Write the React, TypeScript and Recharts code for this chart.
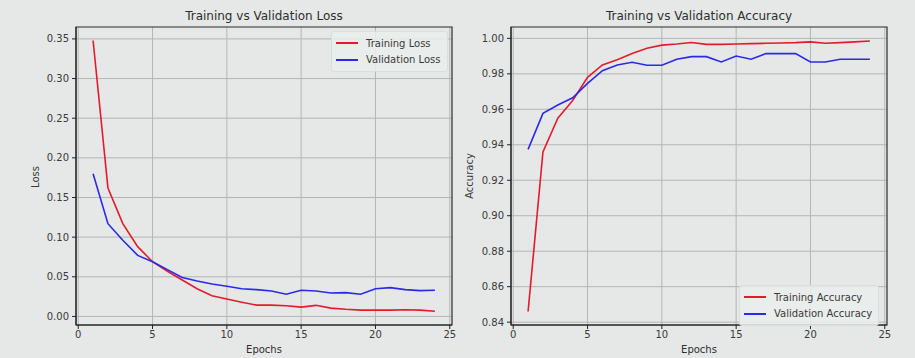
import React from 'react'
import { LineChart, Line, XAxis, YAxis, CartesianGrid, ReferenceArea } from 'recharts'

const epochs = [1, 2, 3, 4, 5, 6, 7, 8, 9, 10, 11, 12, 13, 14, 15, 16, 17, 18, 19, 20, 21, 22, 23, 24]

const trainLoss = [0.348, 0.162, 0.117, 0.088, 0.069, 0.057, 0.046, 0.035, 0.026, 0.022, 0.018, 0.0143, 0.0143, 0.0135, 0.0118, 0.014, 0.0105, 0.009, 0.008, 0.008, 0.008, 0.0085, 0.008, 0.0065]
const valLoss = [0.18, 0.117, 0.096, 0.077, 0.069, 0.059, 0.049, 0.0447, 0.041, 0.038, 0.035, 0.0338, 0.032, 0.028, 0.033, 0.032, 0.0295, 0.03, 0.028, 0.035, 0.0363, 0.0338, 0.0325, 0.033]

const trainAcc = [0.846, 0.936, 0.955, 0.965, 0.978, 0.985, 0.988, 0.9915, 0.9944, 0.9962, 0.9968, 0.9977, 0.9966, 0.9966, 0.9968, 0.997, 0.9972, 0.9974, 0.9976, 0.998, 0.9972, 0.9976, 0.998, 0.9985]
const valAcc = [0.9374, 0.9577, 0.9624, 0.9665, 0.9746, 0.9818, 0.985, 0.9865, 0.9848, 0.9848, 0.9882, 0.9897, 0.9897, 0.9867, 0.99, 0.9882, 0.9914, 0.9914, 0.9914, 0.9867, 0.9867, 0.9882, 0.9882, 0.9882]

const xTicks = [0, 5, 10, 15, 20, 25]
const lossTicks = [0, 0.05, 0.1, 0.15, 0.2, 0.25, 0.3, 0.35]
const accTicks = [0.84, 0.86, 0.88, 0.9, 0.92, 0.94, 0.96, 0.98, 1.0]

const lossNames = ['Training Loss', 'Validation Loss']
const accNames = ['Training Accuracy', 'Validation Accuracy']

const RED = '#e41b2b'
const BLUE = '#2a2ae6'
const FONT = '"DejaVu Sans", sans-serif'
const TEXT = '#3a3a3a'

const lossData = epochs.map((e, i) => ({ epoch: e, train: trainLoss[i], val: valLoss[i] }))
const accData = epochs.map((e, i) => ({ epoch: e, train: trainAcc[i], val: valAcc[i] }))

const X_DOMAIN: [number, number] = [-0.15, 25.15]

interface PanelProps {
  left: number
  yWidth: number
  rightMargin: number
  data: any[]
  yDomain: [number, number]
  yTicks: number[]
}

function Panel({ left, yWidth, rightMargin, data, yDomain, yTicks }: PanelProps) {
  const tick = { fill: TEXT, fontSize: 10, fontFamily: FONT }
  return (
    <div style={{ position: 'absolute', left, top: 0 }}>
      <LineChart width={460} height={358} data={data} margin={{ top: 27, right: rightMargin, left: 0, bottom: 0 }}>
        <CartesianGrid stroke="#b3b6b5" strokeWidth={1} horizontalValues={yTicks} verticalValues={xTicks} />
        <XAxis
          dataKey="epoch"
          type="number"
          domain={X_DOMAIN}
          ticks={xTicks}
          allowDataOverflow
          height={33}
          tick={tick}
          tickSize={4}
          tickMargin={2}
          stroke="#222"
        />
        <YAxis
          type="number"
          domain={yDomain}
          ticks={yTicks}
          allowDataOverflow
          width={yWidth}
          tick={tick}
          tickSize={4}
          tickMargin={3}
          stroke="#222"
          tickFormatter={(v: number) => v.toFixed(2)}
        />
        <ReferenceArea x1={X_DOMAIN[0]} x2={X_DOMAIN[1]} y1={yDomain[0]} y2={yDomain[1]} fill="none" stroke="#2a2a2a" strokeWidth={1.2} ifOverflow="visible" />
        <Line type="linear" dataKey="train" stroke={RED} strokeWidth={1.6} dot={false} isAnimationActive={false} />
        <Line type="linear" dataKey="val" stroke={BLUE} strokeWidth={1.6} dot={false} isAnimationActive={false} />
      </LineChart>
    </div>
  )
}

function LegendBox({ x, y, names }: { x: number; y: number; names: string[] }) {
  const colors = [RED, BLUE]
  return (
    <div
      style={{
        position: 'absolute',
        left: x,
        top: y,
        padding: '3px 6px 3px 4px',
        border: '1px solid #dadedc',
        borderRadius: 3,
        background: 'rgba(234,237,236,0.85)',
        fontFamily: FONT,
        fontSize: 10,
        color: TEXT,
      }}
    >
      {names.map((n, i) => (
        <div key={n} style={{ display: 'flex', alignItems: 'center', height: 16.5 }}>
          <div style={{ width: 22, height: 2, background: colors[i], marginRight: 8, flex: 'none' }} />
          <span>{n}</span>
        </div>
      ))}
    </div>
  )
}

function Title({ x, y, text, size = 12 }: { x: number; y: number; text: string; size?: number }) {
  return (
    <div
      style={{
        position: 'absolute',
        left: x - 150,
        width: 300,
        top: y - size * 0.6,
        textAlign: 'center',
        fontFamily: FONT,
        fontSize: size,
        color: '#2e2e2e',
        lineHeight: `${size * 1.2}px`,
      }}
    >
      {text}
    </div>
  )
}

function VLabel({ x, y, text }: { x: number; y: number; text: string }) {
  return (
    <div
      style={{
        position: 'absolute',
        left: x - 50,
        top: y - 6,
        width: 100,
        textAlign: 'center',
        fontFamily: FONT,
        fontSize: 10,
        lineHeight: '12px',
        color: TEXT,
        transform: 'rotate(-90deg)',
      }}
    >
      {text}
    </div>
  )
}

export default function App() {
  return (
    <div style={{ position: 'absolute', left: 0, top: 0, width: 915, height: 358, background: '#e5e8e7', overflow: 'hidden' }}>
      <Panel left={0} yWidth={76} rightMargin={8} data={lossData} yDomain={[-0.0108, 0.365]} yTicks={lossTicks} />
      <Panel left={455} yWidth={56} rightMargin={28} data={accData} yDomain={[0.8384, 1.0064]} yTicks={accTicks} />
      <Title x={264} y={16} text="Training vs Validation Loss" />
      <Title x={699} y={16} text="Training vs Validation Accuracy" />
      <Title x={264} y={350} text="Epochs" size={10} />
      <Title x={699} y={350} text="Epochs" size={10} />
      <VLabel x={36} y={177} text="Loss" />
      <VLabel x={470} y={176} text="Accuracy" />
      <LegendBox x={331} y={31} names={lossNames} />
      <LegendBox x={739} y={285} names={accNames} />
    </div>
  )
}
